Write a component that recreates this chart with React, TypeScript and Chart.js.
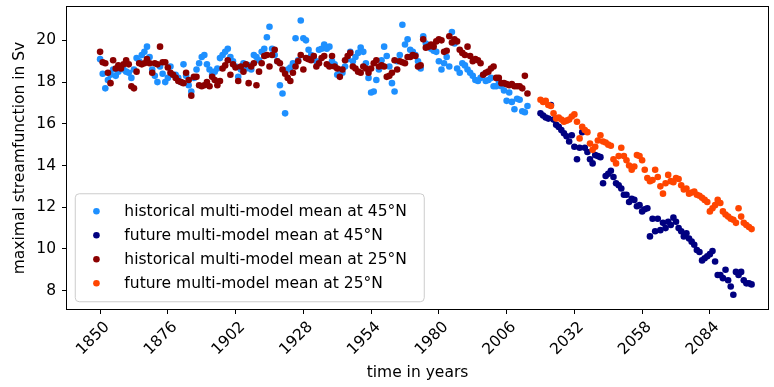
import React, { useEffect, useRef } from "react";
import { Chart, registerables } from "chart.js";

Chart.register(...registerables);

const FONT_FAMILY = "'DejaVu Sans', 'Liberation Sans', sans-serif";
const FONT_SIZE = 15.5;

const HIST_FIRST_YEAR = 1850;
const FUTURE_FIRST_YEAR = 2019;

const xTickYears = [1850, 1876, 1902, 1928, 1954, 1980, 2006, 2032, 2058, 2084];
const yTickValues = [8, 10, 12, 14, 16, 18, 20];

// historical run, 45°N, one value per year from 1850
const hist45 = [
  19.1, 18.4, 17.7, 18.1, 18.35, 18.6, 18.3, 18.5, 18.75, 18.6,
  18.5, 18.45, 18.2, 18.6, 19.15, 19.0, 19.3, 19.45, 19.7, 19.2,
  18.6, 18.3, 18.0, 18.75, 18.4, 18.0, 18.2, 18.75, 18.35, 18.35,
  18.2, 18.0, 18.85, 18.3, 17.85, 17.55, 18.2, 18.6, 18.9, 19.2,
  19.3, 18.85, 18.6, 18.35, 18.5, 18.65, 19.15, 19.3, 19.45, 19.6,
  19.2, 19.0, 18.75, 18.25, 18.6, 18.9, 18.65, 18.8, 18.6, 19.3,
  19.2, 19.05, 19.45, 19.6, 20.15, 20.65, 19.6, 19.3, 19.0, 17.85,
  17.45, 16.5, 18.6, 18.7, 18.9, 20.1, 19.05, 20.95, 20.1, 20.0,
  19.55, 19.3, 19.2, 19.0, 19.55, 19.6, 19.8, 19.6, 19.7, 19.0,
  18.85, 18.35, 18.6, 18.45, 18.75, 19.1, 19.45, 19.0, 19.2, 19.4,
  19.65, 19.45, 18.9, 18.2, 17.5, 17.55, 18.1, 18.6, 19.05, 19.7,
  19.25, 18.75, 17.95, 17.55, 19.0, 19.3, 20.75, 19.8, 20.05, 19.55,
  19.45, 19.3, 19.0, 18.65, 20.2, 19.85, 19.7, 19.6, 19.5, 19.45,
  19.0, 18.6, 18.9, 19.2, 18.75, 20.4, 19.85, 18.65, 18.45, 18.9,
  18.8, 18.6, 18.45, 18.3, 18.1, 18.05, 18.2, 18.35, 18.05, 18.1,
  18.2, 17.8, 17.8, 18.05, 17.8, 17.6, 17.1, 17.5, 17.05, 16.7,
  17.2, 17.15, 16.6, 16.55, 16.85,
];

// scenario run, 45°N, one value per year from 2019
const future45 = [
  16.5,
  16.4, 16.3, 16.25, 16.9, 16.2, 15.95, 15.85, 15.7, 15.55, 15.4,
  15.15, 15.45, 14.9, 14.3, 14.85, 15.6, 14.85, 14.65, 14.3, 14.1,
  14.5, 14.45, 14.4, 13.15, 13.5, 13.6, 13.75, 13.45, 13.15, 13.05,
  12.9, 12.6, 12.6, 12.25, 12.4, 12.35, 12.05, 12.1, 11.8, 11.9,
  11.95, 10.6, 11.45, 10.85, 11.45, 10.9, 11.25, 11.0, 11.3, 11.15,
  11.5, 11.3, 11.0, 10.85, 10.6, 10.75, 10.5, 10.35, 10.2, 9.95,
  9.85, 9.45, 9.55, 9.65, 9.75, 9.9, 9.4, 8.75, 8.75, 8.6,
  9.0, 8.5, 8.2, 7.8, 8.9, 8.75, 8.9, 8.5, 8.35, 8.35,
  8.3,
];

// historical run, 25°N, one value per year from 1850
const hist25 = [
  19.45, 18.95, 18.9, 18.45, 17.95, 19.05, 18.65, 18.8, 18.65, 18.85,
  19.05, 18.85, 17.8, 17.7, 18.5, 18.9, 18.85, 18.9, 19.1, 18.9,
  18.45, 18.9, 18.85, 19.7, 18.95, 18.95, 18.7, 18.45, 18.35, 18.2,
  18.05, 18.0, 17.95, 18.45, 18.1, 17.35, 18.25, 18.25, 17.85, 17.8,
  17.85, 18.0, 17.8, 18.25, 18.1, 17.85, 18.05, 18.65, 18.8, 19.05,
  18.35, 18.85, 18.7, 18.05, 18.75, 18.5, 18.85, 17.95, 18.75, 18.9,
  17.85, 18.5, 18.9, 19.25, 19.3, 18.75, 19.3, 19.55, 19.0, 18.9,
  18.6, 18.4, 18.2, 18.05, 18.45, 18.75, 19.0, 19.3, 18.6, 19.15,
  19.1, 19.05, 19.25, 18.75, 18.9, 19.15, 19.25, 18.85, 18.75, 19.25,
  18.75, 18.65, 18.25, 18.6, 19.05, 19.25, 19.4, 18.75, 18.65, 18.5,
  18.45, 18.75, 18.65, 18.45, 18.65, 18.9, 19.05, 18.75, 18.8, 18.75,
  18.25, 18.3, 18.45, 19.05, 18.6, 19.0, 18.95, 18.9, 19.2, 19.2,
  19.3, 19.25, 18.75, 18.8, 20.05, 19.65, 19.7, 19.8, 19.7, 19.95,
  20.05, 20.0, 19.45, 19.5, 20.2, 19.9, 20.05, 19.95, 19.55, 19.4,
  19.3, 19.7, 19.25, 19.0, 19.1, 19.05, 18.9, 18.35, 18.45, 18.5,
  18.65, 18.75, 18.2, 18.2, 17.95, 17.95, 17.9, 17.85, 17.9, 17.8,
  17.8, 17.8, 17.7, 18.3, 17.45,
];

// scenario run, 25°N, one value per year from 2019
const future25 = [
  17.15,
  17.05, 17.1, 16.9, 16.85, 16.5, 16.25, 16.3, 16.2, 16.1, 16.15,
  16.2, 16.35, 16.45, 16.1, 15.3, 15.85, 15.7, 15.6, 15.05, 14.75,
  14.9, 15.2, 15.45, 15.15, 15.1, 15.0, 14.95, 14.3, 14.1, 14.45,
  14.85, 14.45, 14.25, 14.0, 13.8, 13.95, 14.5, 14.45, 14.25, 13.8,
  13.4, 13.25, 13.3, 13.8, 13.45, 13.0, 12.65, 13.15, 13.55, 13.25,
  13.2, 13.4, 13.35, 13.05, 12.85, 12.9, 12.65, 12.7, 12.75, 12.6,
  12.55, 12.45, 12.35, 12.25, 11.8, 11.95, 12.1, 12.35, 12.2, 11.8,
  11.65, 11.55, 11.45, 11.4, 11.25, 11.95, 11.55, 11.25, 11.15, 11.05,
  10.95,
];

const seriesLabels = [
  "historical multi-model mean at 45°N",
  "future multi-model mean at 45°N",
  "historical multi-model mean at 25°N",
  "future multi-model mean at 25°N",
];
const seriesColors = ["#1e90ff", "#000080", "#8b0000", "#ff4500"];

const POINT_RADIUS = 3.3;
const LEGEND_MIN_WIDTH = 349;

function toPoints(firstYear: number, values: number[]) {
  return values.map((v, i) => ({ x: firstYear + i, y: v }));
}

function roundedRect(ctx: CanvasRenderingContext2D, x: number, y: number, w: number, h: number, r: number) {
  ctx.beginPath();
  ctx.moveTo(x + r, y);
  ctx.lineTo(x + w - r, y);
  ctx.arcTo(x + w, y, x + w, y + r, r);
  ctx.lineTo(x + w, y + h - r);
  ctx.arcTo(x + w, y + h, x + w - r, y + h, r);
  ctx.lineTo(x + r, y + h);
  ctx.arcTo(x, y + h, x, y + h - r, r);
  ctx.lineTo(x, y + r);
  ctx.arcTo(x, y, x + r, y, r);
  ctx.closePath();
}

// Draws the four-sided axes frame and the in-plot legend box.
const frameAndLegend = {
  id: "frameAndLegend",
  afterDraw(chart: any) {
    const { ctx, chartArea } = chart;
    const { left, top, right, bottom } = chartArea;
    const fs = FONT_SIZE;
    ctx.save();

    ctx.strokeStyle = "#000";
    ctx.lineWidth = 1;
    ctx.strokeRect(left - 0.5, top - 0.5, right - left + 1, bottom - top + 1);

    ctx.font = `${fs}px ${FONT_FAMILY}`;
    const textW = Math.max(...seriesLabels.map((l) => ctx.measureText(l).width));
    const boxX = left + 0.5 * fs;
    const boxW = Math.max(3.6 * fs + textW, LEGEND_MIN_WIDTH);
    const rowGap = 24;
    const boxH = rowGap * (seriesLabels.length - 1) + 36;
    const boxY = bottom - 0.5 * fs - boxH;

    roundedRect(ctx, boxX + 0.5, boxY + 0.5, boxW, boxH, 4);
    ctx.fillStyle = "rgba(255,255,255,0.8)";
    ctx.fill();
    ctx.strokeStyle = "#cccccc";
    ctx.stroke();

    ctx.textBaseline = "middle";
    ctx.textAlign = "left";
    seriesLabels.forEach((label, i) => {
      const cy = boxY + 18 + rowGap * i;
      ctx.beginPath();
      ctx.arc(boxX + 1.4 * fs, cy, POINT_RADIUS, 0, Math.PI * 2);
      ctx.fillStyle = seriesColors[i];
      ctx.fill();
      ctx.fillStyle = "#000";
      ctx.fillText(label, boxX + 3.2 * fs, cy + 1);
    });

    ctx.restore();
  },
};

export default function App() {
  const canvasRef = useRef<HTMLCanvasElement | null>(null);

  useEffect(() => {
    const canvas = canvasRef.current;
    if (!canvas) return;
    const font = { family: FONT_FAMILY, size: FONT_SIZE };
    const series = [
      { data: toPoints(HIST_FIRST_YEAR, hist45), order: 3 },
      { data: toPoints(FUTURE_FIRST_YEAR, future45), order: 2 },
      { data: toPoints(HIST_FIRST_YEAR, hist25), order: 1 },
      { data: toPoints(FUTURE_FIRST_YEAR, future25), order: 0 },
    ];
    const chart = new Chart(canvas, {
      type: "scatter",
      data: {
        datasets: series.map((s, i) => ({
          label: seriesLabels[i],
          data: s.data,
          order: s.order,
          showLine: false,
          backgroundColor: seriesColors[i],
          borderColor: seriesColors[i],
          pointBackgroundColor: seriesColors[i],
          pointBorderColor: seriesColors[i],
          pointBorderWidth: 0,
          borderWidth: 0,
          pointRadius: POINT_RADIUS,
        })),
      },
      options: {
        animation: false,
        responsive: true,
        maintainAspectRatio: false,
        layout: { padding: { left: 0, right: 6, top: 7, bottom: 0 } },
        plugins: {
          legend: { display: false },
          tooltip: { enabled: false },
        },
        scales: {
          x: {
            type: "linear",
            min: 1837.3,
            max: 2106.3,
            afterBuildTicks: (s: any) => {
              s.ticks = xTickYears.map((v) => ({ value: v }));
            },
            afterFit: (s: any) => {
              s.height = 78;
              s.paddingLeft = 0;
              s.paddingRight = 0;
            },
            grid: { display: true, drawOnChartArea: false, drawTicks: true, tickLength: 5, color: "#000", lineWidth: 1 },
            border: { display: false },
            ticks: {
              autoSkip: false,
              minRotation: 45,
              maxRotation: 45,
              padding: 4,
              labelOffset: 7,
              color: "#000",
              font,
              callback: (v: any) => String(v),
            },
            title: {
              display: true,
              text: "time in years",
              color: "#000",
              font,
              padding: { top: 0, bottom: 4.7 },
            },
          },
          y: {
            type: "linear",
            min: 7.12,
            max: 21.6,
            afterBuildTicks: (s: any) => {
              s.ticks = yTickValues.map((v) => ({ value: v }));
            },
            afterFit: (s: any) => {
              s.width = 67;
              s.paddingTop = 0;
              s.paddingBottom = 0;
            },
            grid: { display: true, drawOnChartArea: false, drawTicks: true, tickLength: 5, color: "#000", lineWidth: 1 },
            border: { display: false },
            ticks: {
              padding: 6,
              color: "#000",
              font,
              callback: (v: any) => String(v),
            },
            title: {
              display: true,
              text: "maximal streamfunction in Sv",
              color: "#000",
              font,
              padding: { top: 10.7, bottom: 0 },
            },
          },
        },
      },
      plugins: [frameAndLegend],
    } as any);
    return () => chart.destroy();
  }, []);

  return (
    <div style={{ position: "fixed", left: 0, top: 0, width: 774, height: 387, background: "#fff" }}>
      <canvas ref={canvasRef} />
    </div>
  );
}
